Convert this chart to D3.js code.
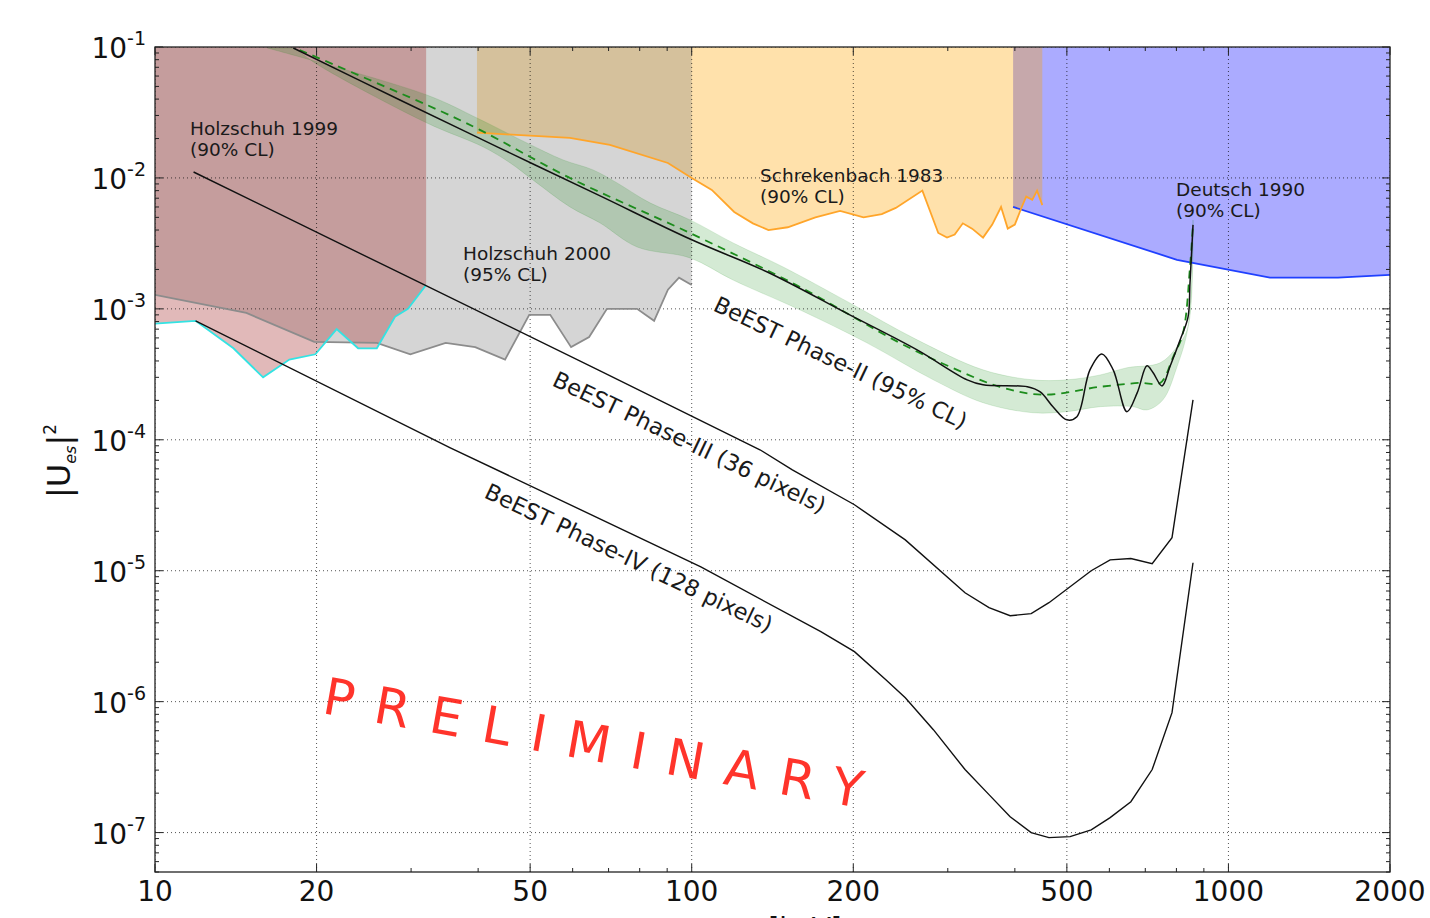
<!DOCTYPE html>
<html lang="en">
<head>
<meta charset="UTF-8">
<title>BeEST sterile neutrino limits</title>
<script src="https://d3js.org/d3.v7.min.js"></script>
<style>
    body { margin: 0; background: #fff; }
    svg { font-family: "DejaVu Sans", sans-serif; }
</style>
</head>
<body>
<script>
    // ---- axes ----
    const xTicks = [10, 20, 50, 100, 200, 500, 1000, 2000];
    const xMinor = [30, 40, 60, 70, 80, 90, 300, 400, 600, 700, 800, 900];
    const yExps = [-7, -6, -5, -4, -3, -2, -1];

    // ---- excluded regions: lower boundary [mass keV, |U|^2] ----
    const holzschuh1999 = [[10, 7.7e-4], [11.9, 8.1e-4], [14.0, 5.0e-4], [15.9, 3.0e-4], [17.8, 4.1e-4],
        [19.9, 4.5e-4], [21.8, 7.0e-4], [23.9, 5.0e-4], [25.9, 5.0e-4], [28.0, 8.7e-4], [29.6, 1.0e-3], [32.0, 1.52e-3]];
    const holzschuh2000 = [[10, 1.28e-3], [14.8, 9.3e-4], [19.8, 5.6e-4], [25.9, 5.5e-4], [29.9, 4.5e-4],
        [34.8, 5.5e-4], [39.5, 5.1e-4], [44.9, 4.1e-4], [49.8, 9.0e-4], [54.5, 9.0e-4], [59.6, 5.1e-4],
        [64.4, 6.1e-4], [69.5, 1.0e-3], [79.1, 1.0e-3], [85.1, 8.1e-4], [90.3, 1.4e-3], [94.7, 1.73e-3], [100, 1.52e-3]];
    const schrekenbach1983 = [[39.8, 2.22e-2], [47.1, 2.13e-2], [59.3, 2.02e-2], [70.4, 1.79e-2], [90.3, 1.30e-2],
        [100, 1.0e-2], [109, 8.1e-3], [120, 5.5e-3], [130, 4.5e-3], [139, 4.0e-3], [151, 4.2e-3], [170, 5.0e-3],
        [189, 5.6e-3], [209, 5.0e-3], [226, 5.3e-3], [240, 5.9e-3], [269, 8.0e-3], [288, 3.8e-3], [299, 3.5e-3],
        [309, 3.7e-3], [320, 4.5e-3], [333, 4.1e-3], [349, 3.5e-3], [363, 4.4e-3], [377, 6.0e-3], [388, 4.1e-3],
        [400, 4.4e-3], [412, 6.0e-3], [420, 7.2e-3], [431, 6.8e-3], [440, 8.0e-3], [450, 6.2e-3]];
    const deutsch1990 = [[397, 6.0e-3], [802, 2.37e-3], [1195, 1.73e-3], [1600, 1.73e-3], [2000, 1.82e-3]];

    // ---- BeEST projections ----
    const phase2 = [[18.1, 9.83e-2], [28.6, 3.94e-2], [43.9, 1.69e-2], [67.5, 7.29e-3], [100, 3.37e-3],
        [138, 1.92e-3], [197, 9.0e-4], [263, 4.86e-4], [326, 2.87e-4], [349, 2.63e-4], [422, 2.54e-4],
        [446, 2.32e-4], [471, 1.79e-4], [500, 1.42e-4], [522, 1.50e-4], [552, 3.42e-4], [581, 4.53e-4],
        [610, 3.42e-4], [647, 1.64e-4], [676, 2.28e-4], [705, 3.67e-4], [724, 3.25e-4], [752, 2.58e-4],
        [778, 3.61e-4], [813, 5.80e-4], [841, 8.69e-4], [848, 1.58e-3], [859, 4.38e-3]];
    const phase2Mean = [[18.6, 9.49e-2], [32.1, 3.61e-2], [40.3, 2.33e-2], [59.3, 1.0e-2], [100, 3.74e-3],
        [159, 1.47e-3], [244, 5.50e-4], [303, 3.61e-4], [375, 2.54e-4], [451, 2.21e-4], [577, 2.54e-4],
        [684, 2.72e-4], [746, 2.72e-4], [789, 4.30e-4], [823, 6.56e-4], [848, 2.09e-3], [859, 4.53e-3]];
    const phase2Upper = [[16.2, 9.83e-2], [32.1, 4.30e-2], [39.8, 2.87e-2], [49.3, 1.85e-2], [57.6, 1.372e-2],
        [65.5, 1.151e-2], [72.6, 9.16e-3], [83.6, 6.45e-3], [99.3, 4.78e-3], [119.4, 3.19e-3], [148, 2.09e-3],
        [197, 1.11e-3], [263, 5.80e-4], [349, 3.42e-4], [432, 2.87e-4], [500, 2.87e-4], [577, 3.13e-4],
        [647, 3.55e-4], [746, 3.87e-4], [802, 5.13e-4], [841, 7.29e-4], [859, 4.78e-3]];
    const phase2Lower = [[18.2, 9.83e-2], [20.0, 7.42e-2], [32.1, 2.63e-2], [40.9, 1.724e-2], [45.9, 1.302e-2],
        [50.6, 9.66e-3], [59.3, 6.01e-3], [67.5, 4.53e-3], [79.1, 2.97e-3], [99.3, 2.45e-3], [119.4, 1.66e-3],
        [159, 9.83e-4], [212, 5.50e-4], [282, 2.87e-4], [349, 1.92e-4], [432, 1.61e-4], [500, 1.64e-4],
        [577, 1.79e-4], [664, 1.79e-4], [705, 1.69e-4], [755, 2.02e-4], [802, 3.61e-4], [841, 7.29e-4], [859, 4.38e-3]];
    const phase3 = [[11.8, 1.11e-2], [28.6, 1.88e-3], [67.5, 3.36e-4], [134, 8.39e-5], [154, 5.90e-5],
        [201, 3.19e-5], [250, 1.72e-5], [323, 6.79e-6], [358, 5.22e-6], [392, 4.53e-6], [429, 4.70e-6],
        [463, 5.70e-6], [555, 1.0e-5], [602, 1.21e-5], [658, 1.24e-5], [721, 1.13e-5], [785, 1.79e-5], [859, 2.02e-4]];
    const phase4 = [[11.9, 8.1e-4], [35.5, 8.69e-5], [104, 1.07e-5], [174, 3.42e-6], [201, 2.41e-6],
        [230, 1.47e-6], [250, 1.07e-6], [282, 6.11e-7], [323, 3.03e-7], [358, 1.95e-7], [392, 1.32e-7],
        [429, 1.0e-7], [463, 9.16e-8], [507, 9.32e-8], [555, 1.05e-7], [602, 1.30e-7], [658, 1.72e-7],
        [721, 3.03e-7], [785, 8.24e-7], [859, 1.15e-5]];

    const W = 1430, H = 918;
    const pL = 155, pR = 1390, pT = 47, pB = 872;

    const x = d3.scaleLog().domain([10, 2000]).range([pL, pR]);
    const y = d3.scaleLog().domain([5e-8, 0.1]).range([pB, pT]);
    const yTop = y.domain()[1];

    const svg = d3.select("body").append("svg")
        .attr("width", W)
        .attr("height", H);

    svg.append("defs").append("clipPath").attr("id", "plotclip")
        .append("rect")
        .attr("x", pL).attr("y", pT)
        .attr("width", pR - pL).attr("height", pB - pT);

    const plot = svg.append("g").attr("clip-path", "url(#plotclip)");

    const line = d3.line().x(d => x(d[0])).y(d => y(d[1]));
    const smooth = d3.line().x(d => x(d[0])).y(d => y(d[1])).curve(d3.curveCatmullRom.alpha(0.5));
    const region = d3.area().x(d => x(d[0])).y0(y(yTop)).y1(d => y(d[1]));

    // filled exclusion regions (order matters for the colour mixing)
    const fills = [
        [deutsch1990, "rgb(0,0,255)"],
        [schrekenbach1983, "rgb(255,165,0)"],
        [holzschuh2000, "rgb(128,128,128)"],
        [holzschuh1999, "rgb(165,42,42)"]
    ];
    fills.forEach(f => {
        plot.append("path")
            .attr("d", region(f[0]))
            .attr("fill", f[1])
            .attr("fill-opacity", 0.33)
            .attr("stroke", "none");
    });

    // Phase-II band
    const band = phase2Upper.concat(phase2Lower.slice().reverse());
    plot.append("path")
        .attr("d", smooth(band) + "Z")
        .attr("fill", "green")
        .attr("fill-opacity", 0.17)
        .attr("stroke", "green")
        .attr("stroke-opacity", 0.12)
        .attr("stroke-width", 1);

    // grid
    const grid = plot.append("g")
        .attr("stroke", "#000")
        .attr("stroke-width", 0.8)
        .attr("stroke-dasharray", "1,3")
        .attr("stroke-opacity", 0.85);
    grid.selectAll("line.gx").data(xTicks).enter().append("line")
        .attr("x1", d => x(d)).attr("x2", d => x(d))
        .attr("y1", pT).attr("y2", pB);
    grid.selectAll("line.gy").data(yExps).enter().append("line")
        .attr("x1", pL).attr("x2", pR)
        .attr("y1", d => y(Math.pow(10, d))).attr("y2", d => y(Math.pow(10, d)));

    // region boundaries
    const edges = [
        [deutsch1990, "#2040ff"],
        [schrekenbach1983, "#ffa52a"],
        [holzschuh2000, "#8c8c8c"],
        [holzschuh1999, "#33e3e3"]
    ];
    edges.forEach(e => {
        plot.append("path")
            .attr("d", line(e[0]))
            .attr("fill", "none")
            .attr("stroke", e[1])
            .attr("stroke-width", 1.8);
    });

    // BeEST curves
    plot.append("path").attr("d", smooth(phase2Mean))
        .attr("fill", "none").attr("stroke", "#1c8c1c")
        .attr("stroke-width", 1.8).attr("stroke-dasharray", "8,6");
    plot.append("path").attr("d", smooth(phase2))
        .attr("fill", "none").attr("stroke", "#111").attr("stroke-width", 1.5);
    [phase3, phase4].forEach(p => {
        plot.append("path").attr("d", line(p))
            .attr("fill", "none").attr("stroke", "#111").attr("stroke-width", 1.4);
    });

    // annotations
    const notes = [
        ["Holzschuh 1999", "(90% CL)", 190, 135],
        ["Holzschuh 2000", "(95% CL)", 463, 260],
        ["Schrekenbach 1983", "(90% CL)", 760, 182],
        ["Deutsch 1990", "(90% CL)", 1176, 196]
    ];
    notes.forEach(n => {
        const t = svg.append("text")
            .attr("x", n[2]).attr("y", n[3])
            .attr("font-size", 18.5).attr("fill", "#1a1a1a");
        t.append("tspan").text(n[0]);
        t.append("tspan").attr("x", n[2]).attr("dy", 21).text(n[1]);
    });

    const tilted = [
        ["BeEST Phase-II (95% CL)", 712, 310, 25.5],
        ["BeEST Phase-III (36 pixels)", 551, 385, 25.5],
        ["BeEST Phase-IV (128 pixels)", 483, 497, 25.5]
    ];
    tilted.forEach(t => {
        svg.append("text")
            .attr("transform", `translate(${t[1]},${t[2]}) rotate(${t[3]})`)
            .attr("font-size", 22.5).attr("fill", "#1a1a1a")
            .text(t[0]);
    });

    svg.append("text")
        .attr("transform", "translate(321,713) rotate(10)")
        .attr("font-size", 51)
        .attr("letter-spacing", 21)
        .attr("fill", "#ff1e14")
        .attr("fill-opacity", 0.9)
        .text("PRELIMINARY");

    // frame and ticks
    svg.append("rect")
        .attr("x", pL).attr("y", pT)
        .attr("width", pR - pL).attr("height", pB - pT)
        .attr("fill", "none").attr("stroke", "#222").attr("stroke-width", 1.3);

    const ticks = svg.append("g").attr("stroke", "#222").attr("stroke-width", 1);
    const tickX = (v, len) => {
        ticks.append("line").attr("x1", x(v)).attr("x2", x(v)).attr("y1", pB).attr("y2", pB - len);
        ticks.append("line").attr("x1", x(v)).attr("x2", x(v)).attr("y1", pT).attr("y2", pT + len);
    };
    const tickY = (v, len) => {
        ticks.append("line").attr("y1", y(v)).attr("y2", y(v)).attr("x1", pL).attr("x2", pL + len);
        ticks.append("line").attr("y1", y(v)).attr("y2", y(v)).attr("x1", pR).attr("x2", pR - len);
    };
    xTicks.forEach(v => tickX(v, 8));
    xMinor.forEach(v => tickX(v, 4));
    yExps.forEach(e => tickY(Math.pow(10, e), 8));
    for (let e = -8; e <= -2; e++) {
        for (let m = 2; m <= 9; m++) {
            const v = m * Math.pow(10, e);
            if (v >= y.domain()[0] && v <= yTop) tickY(v, 4);
        }
    }

    // tick labels
    svg.append("g").selectAll("text").data(xTicks).enter().append("text")
        .attr("x", d => x(d)).attr("y", pB + 29)
        .attr("text-anchor", "middle")
        .attr("font-size", 28).attr("fill", "#111")
        .text(d => d);

    yExps.forEach(e => {
        const t = svg.append("text")
            .attr("x", pL - 9).attr("y", y(Math.pow(10, e)) + 11)
            .attr("text-anchor", "end")
            .attr("font-size", 28).attr("fill", "#111");
        t.append("tspan").text("10");
        t.append("tspan").attr("dy", -13).attr("font-size", 19).text("-" + Math.abs(e));
    });

    // axis titles (the x title sits mostly below the page edge, as in the source image)
    const yl = svg.append("text")
        .attr("transform", "translate(70,461) rotate(-90)")
        .attr("text-anchor", "middle")
        .attr("font-size", 32).attr("fill", "#111");
    yl.append("tspan").text("|U");
    yl.append("tspan").attr("font-size", 16).attr("font-style", "italic").attr("dy", 6).text("es");
    yl.append("tspan").attr("dy", -6).text("|");
    yl.append("tspan").attr("font-size", 17).attr("dy", -14).text("2");

    const xl = svg.append("text")
        .attr("x", 782).attr("y", pB + 66)
        .attr("text-anchor", "middle")
        .attr("font-size", 28).attr("fill", "#111");
    xl.append("tspan").text("m");
    xl.append("tspan").attr("font-size", 19).attr("dy", 6).text("s");
    xl.append("tspan").attr("dy", -6).text(" [keV]");
</script>
</body>
</html>
